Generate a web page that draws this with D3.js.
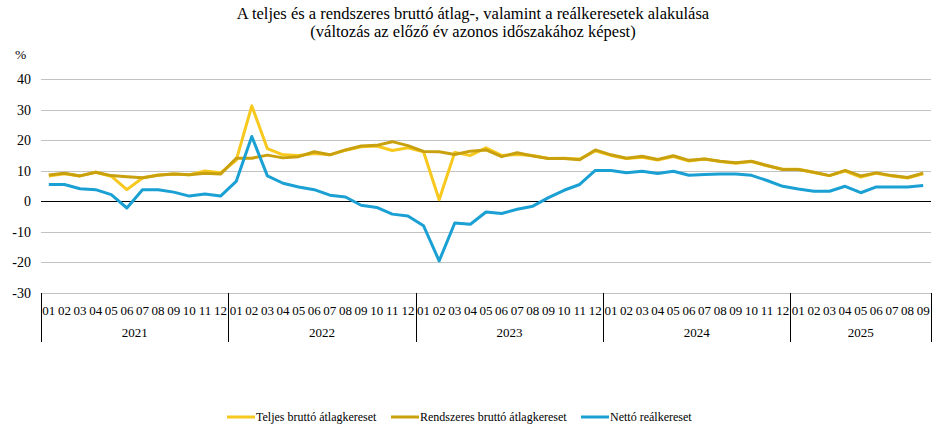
<!DOCTYPE html>
<html>
<head>
<meta charset="utf-8">
<script src="https://cdn.jsdelivr.net/npm/d3@7"></script>
<style>
    body { margin: 0; background: #fff; }
    svg text { font-family: "Liberation Serif", "Times New Roman", "DejaVu Serif", serif; fill: #000; }
    .grid line { stroke: #c3c3c3; stroke-width: 1; }
    .series { fill: none; stroke-width: 3; stroke-linejoin: round; }
</style>
</head>
<body>
<svg id="chart" width="946" height="440"></svg>
<script>

var years = ["2021", "2022", "2023", "2024", "2025"];
var monthsPerYear = [12, 12, 12, 12, 9];
var yTicks = [-30, -20, -10, 0, 10, 20, 30, 40];

var teljes = [
    8.3, 9.0, 8.3, 9.5, 8.2, 3.8, 7.6, 8.6, 8.9, 8.7, 9.9, 9.3,
    13.4, 31.2, 17.2, 15.2, 15.0, 15.6, 15.2, 16.7, 17.8, 18.1, 16.6, 17.5,
    16.2, 0.5, 16.0, 15.0, 17.5, 15.0, 15.3, 15.0, 14.0, 14.1, 13.8, 16.5,
    15.0, 14.0, 14.4, 13.5, 14.6, 13.2, 13.8, 13.0, 12.4, 13.0, 11.6, 10.5,
    10.5, 9.4, 8.4, 9.9, 7.9, 9.2, 8.3, 7.6, 9.0
];
var rendszeres = [
    8.6, 9.2, 8.3, 9.5, 8.4, 8.0, 7.7, 8.5, 8.9, 8.7, 9.2, 8.9,
    14.1, 14.1, 15.1, 14.2, 14.6, 16.2, 15.2, 16.8, 18.1, 18.3, 19.5, 18.2,
    16.3, 16.2, 15.3, 16.4, 16.8, 14.6, 15.9, 14.8, 14.0, 14.0, 13.6, 16.8,
    15.2, 14.1, 14.7, 13.7, 14.9, 13.4, 13.8, 13.1, 12.6, 13.1, 11.7, 10.4,
    10.4, 9.5, 8.4, 10.1, 8.3, 9.3, 8.4, 7.8, 9.2
];
var netto = [
    5.5, 5.5, 4.1, 3.8, 2.2, -2.2, 3.8, 3.8, 3.0, 1.7, 2.4, 1.7,
    6.5, 21.2, 8.3, 5.9, 4.7, 3.8, 2.0, 1.4, -1.3, -2.0, -4.2, -4.8,
    -8.0, -19.5, -7.1, -7.5, -3.5, -4.0, -2.6, -1.6, 1.2, 3.6, 5.5, 10.1,
    10.1, 9.3, 9.8, 9.1, 9.8, 8.5, 8.8, 8.9, 8.9, 8.5, 6.8, 4.9,
    4.0, 3.3, 3.3, 4.9, 2.8, 4.7, 4.7, 4.7, 5.2
];

var seriesList = [
    { name: "Teljes bruttó átlagkereset", values: teljes, color: "#f7c81e" },
    { name: "Rendszeres bruttó átlagkereset", values: rendszeres, color: "#c9a00e" },
    { name: "Nettó reálkereset", values: netto, color: "#1aa0d3" }
];

(function () {

// month keys like "2021-01"
var months = [];
years.forEach(function (yr, i) {
    for (var m = 1; m <= monthsPerYear[i]; m++) {
        months.push({ key: yr + "-" + (m < 10 ? "0" + m : m), label: (m < 10 ? "0" + m : "" + m), year: yr });
    }
});

var svg = d3.select("#chart");
var plotLeft = 41, plotRight = 931, plotTop = 79, plotBottom = 293;

var x = d3.scaleBand()
    .domain(months.map(function (d) { return d.key; }))
    .range([plotLeft, plotRight]);

var y = d3.scaleLinear()
    .domain([-30, 40])
    .range([plotBottom, plotTop]);

// title
svg.append("text").attr("x", 473).attr("y", 19).attr("text-anchor", "middle")
    .style("font-size", "16.5px")
    .text("A teljes és a rendszeres bruttó átlag-, valamint a reálkeresetek alakulása");
svg.append("text").attr("x", 473).attr("y", 37).attr("text-anchor", "middle")
    .style("font-size", "16.5px")
    .text("(változás az előző év azonos időszakához képest)");
svg.append("text").attr("x", 15).attr("y", 59).style("font-size", "13.5px").text("%");

// grid
var grid = svg.append("g").attr("class", "grid");
grid.selectAll("line")
    .data(yTicks.filter(function (d) { return d !== 0; }))
    .enter().append("line")
    .attr("x1", plotLeft).attr("x2", plotRight)
    .attr("y1", function (d) { return Math.round(y(d)) + 0.5; })
    .attr("y2", function (d) { return Math.round(y(d)) + 0.5; });

svg.append("g").selectAll("text")
    .data(yTicks)
    .enter().append("text")
    .attr("x", 31)
    .attr("y", function (d) { return y(d) + 5; })
    .attr("text-anchor", "end")
    .style("font-size", "14px")
    .text(function (d) { return d; });

svg.append("line")
    .attr("x1", plotLeft).attr("x2", plotRight)
    .attr("y1", Math.round(y(0)) + 0.5).attr("y2", Math.round(y(0)) + 0.5)
    .attr("stroke", "#000").attr("stroke-width", 1);

// category axis: months and years
var axisG = svg.append("g");
axisG.selectAll("text.month")
    .data(months)
    .enter().append("text")
    .attr("class", "month")
    .attr("x", function (d) { return x(d.key) + x.bandwidth() / 2; })
    .attr("y", plotBottom + 22)
    .attr("text-anchor", "middle")
    .style("font-size", "13px")
    .text(function (d) { return d.label; });

var yearStart = 0;
var yearInfo = years.map(function (yr, i) {
    var first = months[yearStart].key;
    var last = months[yearStart + monthsPerYear[i] - 1].key;
    yearStart += monthsPerYear[i];
    return { year: yr, x0: x(first), x1: x(last) + x.bandwidth() };
});

axisG.selectAll("text.year")
    .data(yearInfo)
    .enter().append("text")
    .attr("class", "year")
    .attr("x", function (d) { return (d.x0 + d.x1) / 2; })
    .attr("y", plotBottom + 44)
    .attr("text-anchor", "middle")
    .style("font-size", "13px")
    .text(function (d) { return d.year; });

var dividers = yearInfo.map(function (d) { return d.x0; }).concat([yearInfo[yearInfo.length - 1].x1]);
axisG.selectAll("line")
    .data(dividers)
    .enter().append("line")
    .attr("x1", function (d) { return Math.round(d) + 0.5; })
    .attr("x2", function (d) { return Math.round(d) + 0.5; })
    .attr("y1", plotBottom).attr("y2", plotBottom + 49)
    .attr("stroke", "#000").attr("stroke-width", 1);

// lines
var line = d3.line()
    .x(function (d, i) { return x(months[i].key) + x.bandwidth() / 2; })
    .y(function (d) { return y(d); });

svg.append("g").selectAll("path")
    .data(seriesList)
    .enter().append("path")
    .attr("class", "series")
    .attr("stroke", function (d) { return d.color; })
    .attr("d", function (d) { return line(d.values); });

// legend
var legendX = [227, 391, 581];
var legend = svg.append("g").selectAll("g")
    .data(seriesList)
    .enter().append("g")
    .attr("transform", function (d, i) { return "translate(" + legendX[i] + ",417)"; });
legend.append("line")
    .attr("x1", 0).attr("x2", 28)
    .attr("stroke", function (d) { return d.color; })
    .attr("stroke-width", 3);
legend.append("text")
    .attr("x", 29).attr("y", 4)
    .style("font-size", "12px")
    .text(function (d) { return d.name; });

})();

</script>
</body>
</html>
